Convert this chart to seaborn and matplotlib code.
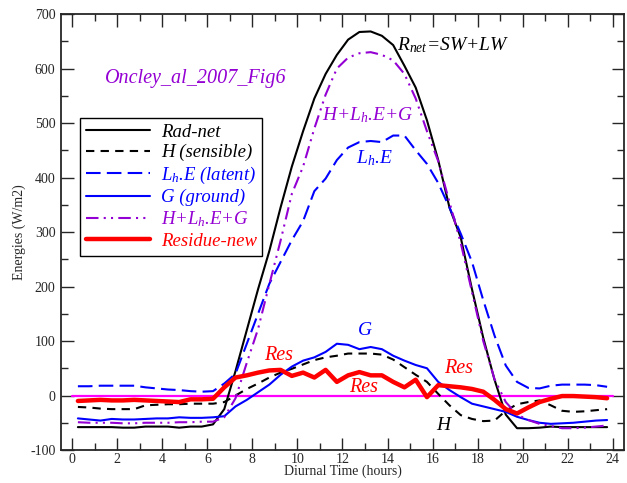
import numpy as np
import pandas as pd
import seaborn as sns
import matplotlib
matplotlib.use("Agg")
import matplotlib.pyplot as plt
from matplotlib.ticker import MultipleLocator

# ---------------- data ----------------
hours = [0.25 + 0.5 * i for i in range(48)]

rad_net = [-58, -58, -58, -58, -59, -59, -57, -57, -57, -59, -57, -57,
           -53, -25, 45, 120, 195, 265, 345, 420, 485, 545, 590, 625,
           653, 667, 668, 660, 643, 605, 565, 505, 432, 345, 290, 195,
           106, 29, -35, -60, -60, -59, -57, -58, -58, -58, -58, -58]

sensible = [-21, -22, -24, -25, -25, -25, -18, -17, -16, -16, -15, -15,
            -15, -12, 0, 12, 22, 33, 42, 49, 57, 65, 70, 73,
            77, 77, 77, 75, 66, 52, 38, 25, 3, -18, -36, -43,
            -47, -46, -28, -16, -12, -9, -18, -28, -30, -29, -27, -25]

latent = [17, 17, 18, 18, 18, 18, 15, 13, 11, 10, 8, 7,
          8, 22, 40, 95, 150, 205, 245, 285, 320, 375, 398, 432,
          455, 465, 467, 465, 477, 477, 450, 425, 390, 345, 297, 245,
          175, 110, 55, 25, 14, 13, 18, 20, 20, 20, 19, 16]

ground = [-42, -44, -46, -43, -44, -44, -43, -42, -42, -40, -41, -41,
          -40, -38, -20, -8, 6, 20, 38, 53, 64, 70, 80, 95,
          93, 85, 89, 85, 73, 64, 56, 50, 25, 10, -3, -15,
          -20, -25, -30, -39, -45, -50, -52, -51, -50, -48, -46, -45]

h_le_g = [-49, -50, -50, -50, -51, -51, -50, -50, -50, -49, -49, -48,
          -48, -40, -5, 60, 122, 204, 284, 370, 420, 490, 552, 600,
          620, 628, 630, 625, 615, 590, 545, 485, 430, 355, 280, 190,
          100, 30, -12, -35, -45, -52, -56, -60, -60, -59, -57, -55]

residue = [-10, -9, -8, -9, -9, -8, -9, -10, -11, -12, -7, -7,
           -6, 15, 33, 37, 42, 46, 47, 36, 42, 33, 47, 25,
           37, 43, 37, 37, 25, 15, 29, -3, 19, 17, 15, 12,
           7, -8, -25, -33, -22, -12, -6, -1, -1, -2, -3, -5]

zero_x = [0, 24]
zero_y = [0, 0]

legend_labels = ["Rad-net", "H (sensible)", r"$L_h$.E (latent)", "G (ground)",
                 r"H+$L_h$.E+G", "Residue-new"]

# ---------------- style ----------------
sns.set_style("ticks")
plt.rcParams["font.family"] = ["Liberation Serif", "DejaVu Serif"]
plt.rcParams["mathtext.fontset"] = "custom"
plt.rcParams["mathtext.rm"] = "Liberation Serif"
plt.rcParams["mathtext.it"] = "Liberation Serif:italic"
plt.rcParams["mathtext.bf"] = "Liberation Serif:bold"
plt.rcParams["axes.unicode_minus"] = False

PURPLE = "#9400D3"

fig = plt.figure(figsize=(6.27, 4.83), dpi=100)
ax = fig.add_axes([0.0973, 0.0683, 0.8979, 0.9027])

series = [
    (rad_net, "black", 1.5, None),
    (sensible, "black", 1.5, (4, 3)),
    (latent, "#0000FF", 1.5, (7, 3)),
    (ground, "#0000FF", 1.5, None),
    (h_le_g, PURPLE, 1.5, (6, 2.5, 1, 2.5, 1, 2.5)),
    (residue, "#FF0000", 3.2, None),
]

handles = []
for (vals, col, lw, dash), lab in zip(series, legend_labels):
    df = pd.DataFrame({"t": hours, "v": vals})
    sns.lineplot(data=df, x="t", y="v", ax=ax, color=col, linewidth=lw,
                 label=lab, zorder=3)
    ln = ax.lines[-1]
    if dash is not None:
        ln.set_dashes(dash)
    handles.append(ln)

sns.lineplot(x=zero_x, y=zero_y, ax=ax, color="#FF00FF", linewidth=1.6,
             zorder=2)

ax.set_xlim(-0.5, 24.5)
ax.set_ylim(-100, 700)
ax.xaxis.set_major_locator(MultipleLocator(2))
ax.xaxis.set_minor_locator(MultipleLocator(1))
ax.yaxis.set_major_locator(MultipleLocator(100))
ax.yaxis.set_minor_locator(MultipleLocator(50))
ax.tick_params(which="both", direction="in", top=True, right=True,
               labelsize=10, width=1)
ax.tick_params(axis="x", which="both", pad=2)
ax.tick_params(axis="y", which="both", pad=4)
ax.tick_params(which="major", length=9)
ax.tick_params(which="minor", length=5)
for sp in ax.spines.values():
    sp.set_linewidth(1.3)
    sp.set_visible(True)

ax.set_xlabel("Diurnal Time (hours)", fontsize=10, labelpad=-1)
ax.set_ylabel("Energies (W/m2)", fontsize=10, labelpad=3)

leg = ax.legend(handles=handles, labels=legend_labels, loc="upper left",
                bbox_to_anchor=(0.034, 0.762),
                prop={"style": "italic", "size": 13.5},
                frameon=True, fancybox=False, framealpha=1,
                edgecolor="black", handlelength=3.4, handletextpad=0.6,
                borderpad=0.3, labelspacing=0.18, borderaxespad=0)
leg.get_frame().set_linewidth(1.0)
for txt, (vals, col, lw, dash) in zip(leg.get_texts(), series):
    txt.set_color(col)

# annotations
ax.text(1.45, 582, "Oncley_al_2007_Fig6", color=PURPLE, fontsize=14.5,
        style="italic", va="center", ha="left")
ax.text(14.4, 643, r"$R_{net}$=SW+LW", color="black", fontsize=14,
        style="italic", va="center", ha="left")
ax.text(11.1, 514, r"H+$L_h$.E+G", color=PURPLE, fontsize=14,
        style="italic", va="center", ha="left")
ax.text(12.6, 435, r"$L_h$.E", color="#0000FF", fontsize=14,
        style="italic", va="center", ha="left")
ax.text(13.0, 120, "G", color="#0000FF", fontsize=14,
        style="italic", va="center", ha="center")
ax.text(9.18, 74, "Res", color="#FF0000", fontsize=14.5,
        style="italic", va="center", ha="center")
ax.text(12.93, 15, "Res", color="#FF0000", fontsize=14.5,
        style="italic", va="center", ha="center")
ax.text(17.17, 49, "Res", color="#FF0000", fontsize=14.5,
        style="italic", va="center", ha="center")
ax.text(16.47, -55, "H", color="black", fontsize=14,
        style="italic", va="center", ha="center")

fig.savefig("out.png", dpi=100)
